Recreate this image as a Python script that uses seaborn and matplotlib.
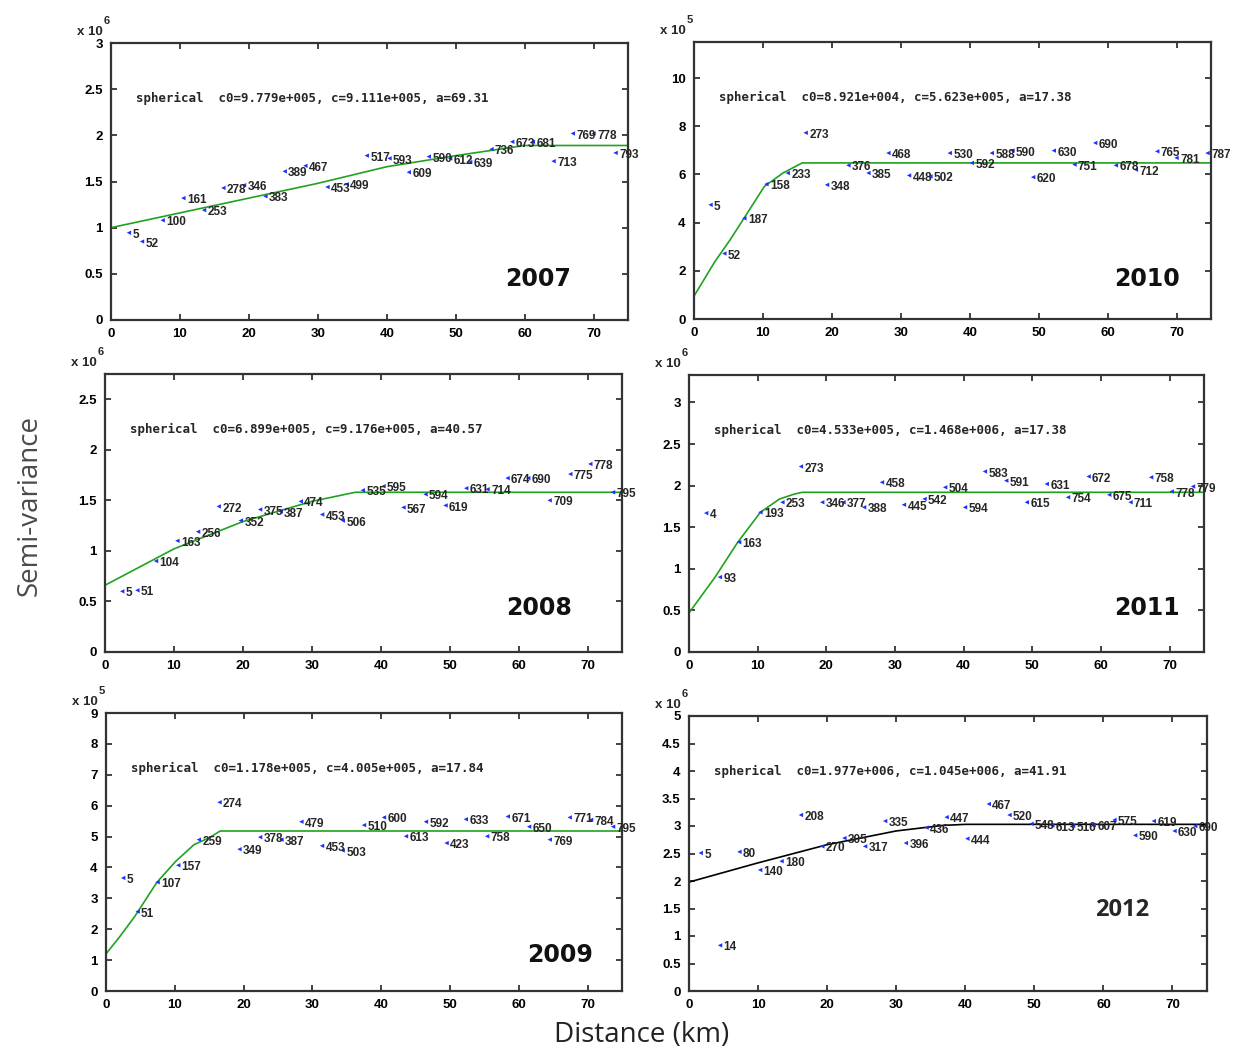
import numpy as np
import pandas as pd
import matplotlib
matplotlib.use("Agg")
import matplotlib.pyplot as plt
import seaborn as sns

sns.set_style("ticks")
plt.rcParams["font.family"] = ["Liberation Sans", "DejaVu Sans"]
plt.rcParams["font.weight"] = "bold"

W, H = 1234, 1055

# ---------------- data ----------------
years = ["2007", "2010", "2008", "2011", "2009", "2012"]

# 2007 (x 10^6)
x_2007 = [2.6, 4.5, 7.5, 10.5, 13.5, 16.3, 19.3, 22.4, 25.2, 28.2, 31.4, 34.2, 37.1, 40.4, 43.2, 46.1, 49.2, 52.1, 55.2, 58.2, 61.2, 64.2, 67.0, 70.0, 73.2]
y_2007 = [0.945, 0.85, 1.08, 1.32, 1.19, 1.43, 1.46, 1.34, 1.61, 1.67, 1.44, 1.47, 1.78, 1.75, 1.60, 1.77, 1.75, 1.71, 1.85, 1.93, 1.93, 1.72, 2.02, 2.02, 1.81]
n_2007 = [5, 52, 100, 161, 253, 278, 346, 383, 389, 467, 453, 499, 517, 593, 609, 590, 612, 639, 736, 673, 681, 713, 769, 778, 793]
fitx_2007 = [0, 10, 20, 30, 40, 50, 60, 75]
fity_2007 = [1.0, 1.16, 1.32, 1.48, 1.66, 1.78, 1.89, 1.89]

# 2010 (x 10^5)
x_2010 = [2.4, 4.4, 7.3, 10.5, 13.6, 16.2, 19.3, 22.4, 25.3, 28.2, 31.2, 34.3, 37.1, 40.3, 43.2, 46.2, 49.2, 52.2, 55.2, 58.2, 61.2, 64.1, 67.2, 70.0, 74.5]
y_2010 = [4.74, 2.72, 4.18, 5.60, 6.06, 7.73, 5.57, 6.38, 6.06, 6.89, 5.96, 5.92, 6.89, 6.48, 6.89, 6.99, 5.89, 6.99, 6.41, 7.31, 6.38, 6.20, 6.96, 6.69, 6.89]
n_2010 = [5, 52, 187, 158, 233, 273, 348, 376, 385, 468, 448, 502, 530, 592, 588, 590, 620, 630, 751, 690, 678, 712, 765, 781, 787]
fitx_2010 = [0, 3, 5.2, 7.4, 10.2, 12.9, 15.7, 75]
fity_2010 = [0.95, 2.37, 3.27, 4.25, 5.5, 6.06, 6.48, 6.48]

# 2008 (x 10^6)
x_2008 = [2.5, 4.7, 7.4, 10.5, 13.5, 16.5, 19.7, 22.5, 25.5, 28.4, 31.5, 34.5, 37.4, 40.4, 43.3, 46.5, 49.4, 52.4, 55.5, 58.4, 61.4, 64.5, 67.5, 70.4, 73.7]
y_2008 = [0.60, 0.61, 0.90, 1.10, 1.19, 1.44, 1.30, 1.41, 1.39, 1.49, 1.36, 1.30, 1.60, 1.64, 1.43, 1.56, 1.45, 1.62, 1.61, 1.72, 1.72, 1.50, 1.76, 1.86, 1.58]
n_2008 = [5, 51, 104, 163, 256, 272, 352, 375, 387, 474, 453, 506, 535, 595, 567, 594, 619, 631, 714, 674, 690, 709, 775, 778, 795]
fitx_2008 = [0, 10, 20, 30, 36.3, 75]
fity_2008 = [0.66, 1.02, 1.29, 1.49, 1.58, 1.58]

# 2011 (x 10^6)
x_2011 = [2.5, 4.5, 7.3, 10.4, 13.6, 16.3, 19.4, 22.5, 25.5, 28.1, 31.3, 34.3, 37.3, 40.2, 43.1, 46.2, 49.2, 52.1, 55.2, 58.2, 61.2, 64.3, 67.3, 70.3, 73.4]
y_2011 = [1.67, 0.90, 1.32, 1.68, 1.80, 2.23, 1.80, 1.80, 1.74, 2.04, 1.77, 1.84, 1.98, 1.74, 2.17, 2.06, 1.80, 2.02, 1.86, 2.11, 1.89, 1.80, 2.10, 1.93, 1.99]
n_2011 = [4, 93, 163, 193, 253, 273, 346, 377, 388, 458, 445, 542, 504, 594, 583, 591, 615, 631, 754, 672, 675, 711, 758, 778, 779]
fitx_2011 = [0, 3.8, 7.1, 10.4, 13.2, 15.4, 16.5, 75]
fity_2011 = [0.47, 0.90, 1.32, 1.68, 1.84, 1.90, 1.92, 1.92]

# 2009 (x 10^5)
x_2009 = [2.5, 4.6, 7.5, 10.5, 13.5, 16.5, 19.4, 22.4, 25.5, 28.4, 31.4, 34.4, 37.5, 40.4, 43.6, 46.5, 49.5, 52.3, 55.4, 58.4, 61.5, 64.5, 67.4, 70.5, 73.7]
y_2009 = [3.66, 2.57, 3.52, 4.07, 4.90, 6.11, 4.59, 4.98, 4.90, 5.48, 4.70, 4.55, 5.37, 5.62, 5.01, 5.48, 4.79, 5.56, 5.01, 5.65, 5.32, 4.90, 5.62, 5.54, 5.32]
n_2009 = [5, 51, 107, 157, 259, 274, 349, 378, 387, 479, 453, 503, 510, 600, 613, 592, 423, 633, 758, 671, 650, 769, 771, 784, 795]
fitx_2009 = [0, 2, 4.2, 7.4, 10.1, 12.8, 15, 16.6, 75]
fity_2009 = [1.2, 1.76, 2.42, 3.52, 4.19, 4.74, 4.96, 5.18, 5.18]

# 2012 (x 10^6)
x_2012 = [1.7, 4.5, 7.3, 10.3, 13.4, 16.2, 19.3, 22.5, 25.5, 28.4, 31.4, 34.4, 37.3, 40.3, 43.4, 46.4, 49.6, 52.6, 55.6, 58.6, 61.6, 64.6, 67.3, 70.3, 73.3]
y_2012 = [2.51, 0.83, 2.53, 2.20, 2.36, 3.20, 2.63, 2.78, 2.63, 3.09, 2.69, 2.97, 3.16, 2.77, 3.40, 3.20, 3.04, 3.01, 3.00, 3.02, 3.11, 2.83, 3.09, 2.91, 3.00]
n_2012 = [5, 14, 80, 140, 180, 208, 270, 305, 317, 335, 396, 436, 447, 444, 467, 520, 548, 613, 516, 607, 575, 590, 619, 630, 690]
fitx_2012 = [0, 10, 20, 30, 36.7, 40, 75]
fity_2012 = [1.98, 2.33, 2.66, 2.91, 3.01, 3.03, 3.03]

model_texts = [
    "spherical  c0=9.779e+005, c=9.111e+005, a=69.31",
    "spherical  c0=8.921e+004, c=5.623e+005, a=17.38",
    "spherical  c0=6.899e+005, c=9.176e+005, a=40.57",
    "spherical  c0=4.533e+005, c=1.468e+006, a=17.38",
    "spherical  c0=1.178e+005, c=4.005e+005, a=17.84",
    "spherical  c0=1.977e+006, c=1.045e+006, a=41.91",
]
exponents = ["6", "5", "6", "6", "5", "6"]

x_ticks = [0, 10, 20, 30, 40, 50, 60, 70]
yticks_2007 = [0, 0.5, 1, 1.5, 2, 2.5, 3]
yticks_2010 = [0, 2, 4, 6, 8, 10]
yticks_2008 = [0, 0.5, 1, 1.5, 2, 2.5]
yticks_2011 = [0, 0.5, 1, 1.5, 2, 2.5, 3]
yticks_2009 = [0, 1, 2, 3, 4, 5, 6, 7, 8, 9]
yticks_2012 = [0, 0.5, 1, 1.5, 2, 2.5, 3, 3.5, 4, 4.5, 5]

# ---------------- layout ----------------
def rect(l, r, t, b):
    return [l / W, 1 - b / H, (r - l) / W, (b - t) / H]

panels = [
    dict(year="2007", x=x_2007, y=y_2007, n=n_2007, fx=fitx_2007, fy=fity_2007, yt=yticks_2007, ylim=3.0,
         rect=rect(111, 628, 43, 320), lc="#1fa31f", ypos=(0.827, 0.148), yfont="bold"),
    dict(year="2010", x=x_2010, y=y_2010, n=n_2010, fx=fitx_2010, fy=fity_2010, yt=yticks_2010, ylim=11.5,
         rect=rect(694, 1211, 42, 319), lc="#1fa31f", ypos=(0.876, 0.144), yfont="bold"),
    dict(year="2008", x=x_2008, y=y_2008, n=n_2008, fx=fitx_2008, fy=fity_2008, yt=yticks_2008, ylim=2.75,
         rect=rect(105, 622, 374, 652), lc="#1fa31f", ypos=(0.84, 0.158), yfont="bold"),
    dict(year="2011", x=x_2011, y=y_2011, n=n_2011, fx=fitx_2011, fy=fity_2011, yt=yticks_2011, ylim=3.33,
         rect=rect(689, 1204, 375, 652), lc="#1fa31f", ypos=(0.889, 0.158), yfont="bold"),
    dict(year="2009", x=x_2009, y=y_2009, n=n_2009, fx=fitx_2009, fy=fity_2009, yt=yticks_2009, ylim=9.0,
         rect=rect(106, 622, 713, 991), lc="#1fa31f", ypos=(0.88, 0.13), yfont="bold"),
    dict(year="2012", x=x_2012, y=y_2012, n=n_2012, fx=fitx_2012, fy=fity_2012, yt=yticks_2012, ylim=5.0,
         rect=rect(689, 1207, 716, 991), lc="#000000", ypos=(0.836, 0.295), yfont="calibri"),
]

fig = plt.figure(figsize=(W / 100, H / 100), dpi=100)

def fmt(v):
    return ("%g" % v)

for i, p in enumerate(panels):
    ax = fig.add_axes(p["rect"])
    df = pd.DataFrame({"x": p["x"], "y": p["y"], "n": p["n"]})
    fit = pd.DataFrame({"x": p["fx"], "y": p["fy"]})
    sns.lineplot(data=fit, x="x", y="y", ax=ax, color=p["lc"], lw=1.2, sort=False, zorder=2)
    sns.scatterplot(data=df, x="x", y="y", ax=ax, marker="<", s=10, color="#1f2fff",
                    edgecolor="none", zorder=3)
    for _, r in df.iterrows():
        ax.annotate(str(int(r["n"])), (r["x"], r["y"]), xytext=(2.5, -1.5),
                    textcoords="offset points", fontsize=8.5, fontweight="bold",
                    va="center", ha="left", annotation_clip=False, zorder=4)
    ax.set_xlim(0, 75)
    ax.set_ylim(0, p["ylim"])
    ax.set_xticks(x_ticks)
    ax.set_xticklabels([str(t) for t in x_ticks])
    ax.set_yticks(p["yt"])
    ax.set_yticklabels([fmt(t) for t in p["yt"]])
    ax.set_xlabel("")
    ax.set_ylabel("")
    ax.tick_params(direction="in", length=4, width=1.2, top=True, right=True,
                   labelsize=9.5, pad=6, colors="#222222", labelcolor="black")
    for s in ax.spines.values():
        s.set_visible(True)
        s.set_linewidth(1.6)
        s.set_color("#333333")
    for lab in ax.get_xticklabels() + ax.get_yticklabels():
        lab.set_fontweight("bold")
    # model text
    ax.text(0.048, 0.80, model_texts[i], transform=ax.transAxes, fontsize=9,
            fontweight="bold", family=["DejaVu Sans Mono"], va="center", ha="left")
    # multiplier label
    ax.annotate("x 10", (0, 1), xycoords="axes fraction", xytext=(-6, 8),
                textcoords="offset points", ha="right", va="center",
                fontsize=9.5, fontweight="bold")
    ax.annotate(exponents[i], (0, 1), xycoords="axes fraction", xytext=(-3, 16),
                textcoords="offset points", ha="center", va="center",
                fontsize=8, fontweight="bold")
    # year
    if p["yfont"] == "calibri":
        ax.text(p["ypos"][0], p["ypos"][1], p["year"], transform=ax.transAxes,
                fontsize=17, fontweight="bold", family=["Open Sans", "DejaVu Sans"],
                ha="center", va="center")
    else:
        ax.text(p["ypos"][0], p["ypos"][1], p["year"], transform=ax.transAxes,
                fontsize=17, fontweight="bold", family=["DejaVu Sans"],
                ha="center", va="center", color="#111111")

fig.text(30 / W, 1 - 505 / H, "Semi-variance", rotation=90, fontsize=20,
         fontweight="normal", family=["Open Sans", "DejaVu Sans"], color="#4a4a4a",
         ha="center", va="center")
fig.text(642 / W, 1 - 1035 / H, "Distance (km)", fontsize=20,
         fontweight="normal", family=["Open Sans", "DejaVu Sans"], color="#222222",
         ha="center", va="center")

fig.savefig("out.png", dpi=100)
